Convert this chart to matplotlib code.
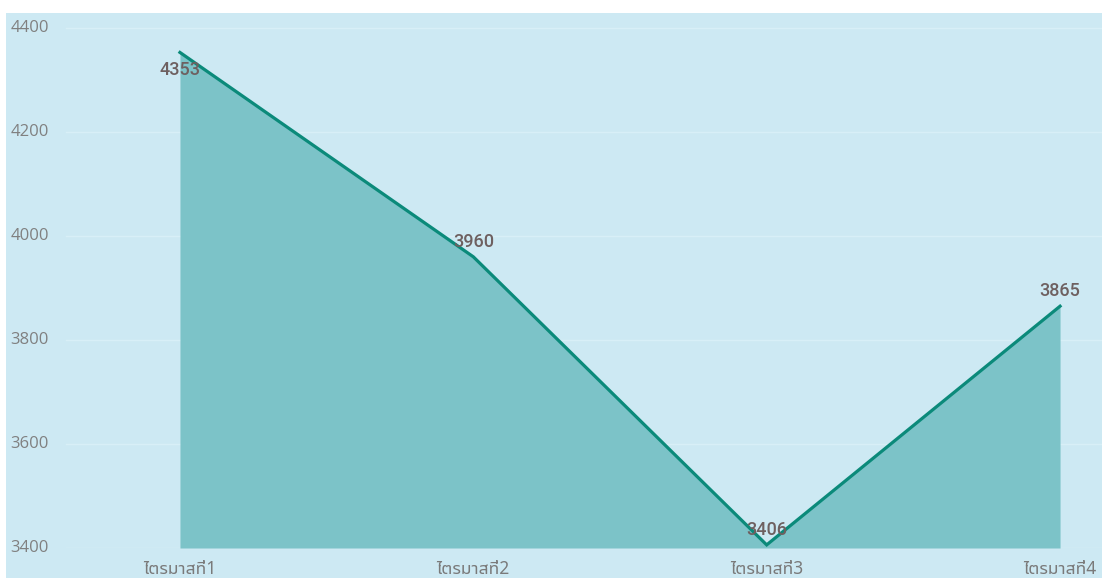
import matplotlib
matplotlib.use("Agg")
import matplotlib.pyplot as plt
from matplotlib.patches import Rectangle

# quarterly values
quarters = ["ไตรมาสที่1", "ไตรมาสที่2", "ไตรมาสที่3", "ไตรมาสที่4"]
values = [4353, 3960, 3406, 3865]
yticks = [3400, 3600, 3800, 4000, 4200, 4400]

bg = "#cde9f3"
fill_c = "#7cc3c8"
line_c = "#0b8a7a"
lab_c = "#6e6060"

fig = plt.figure(figsize=(11.02, 5.78), dpi=100, facecolor="white")
fig.patches.append(Rectangle((6 / 1102, 0), 1, 1 - 13 / 578, transform=fig.transFigure,
                             facecolor=bg, edgecolor="none", zorder=-5))

# axes spans the blue panel horizontally, y from 3400 line up to the panel top
ax = fig.add_axes([6 / 1102, 30 / 578, 1096 / 1102, (548 - 13) / 578])
ax.set_facecolor("none")
x = list(range(len(values)))
ax.fill_between(x, 3400, values, color=fill_c, linewidth=0, zorder=2)
ax.plot(x, values, color=line_c, linewidth=2.3, zorder=3, solid_joinstyle="miter")

ax.set_xlim(-0.593, 3.143)
ax.set_ylim(3400, 3400 + 535 / 0.52)

for t in yticks:
    ax.axhline(t, xmin=60 / 1096, color="#d8eff7", linewidth=1, zorder=1)

ax.set_yticks(yticks)
ax.tick_params(axis="y", length=0, pad=-3, labelsize=12, labelcolor="#808080")
for lab in ax.get_yticklabels():
    lab.set_horizontalalignment("left")
    lab.set_verticalalignment("center")
    lab.set_fontfamily("Open Sans")

ax.set_xticks(x)
ax.set_xticklabels(quarters, family=["Noto Sans Thai UI", "Noto Sans Thai", "DejaVu Sans"],
                   fontsize=12.5, color="#7a7a7a")
ax.tick_params(axis="x", length=0, pad=9)

for s in ax.spines.values():
    s.set_visible(False)

# data labels
for i, v in enumerate(values):
    dy = -13 if i == 0 else 11
    ax.annotate(str(v), (i, v), xytext=(0, dy), textcoords="offset points",
                ha="center", va="center", fontsize=13, family="Roboto",
                fontweight="medium", color=lab_c, zorder=4)

fig.savefig("out.png", dpi=100, facecolor="white")
